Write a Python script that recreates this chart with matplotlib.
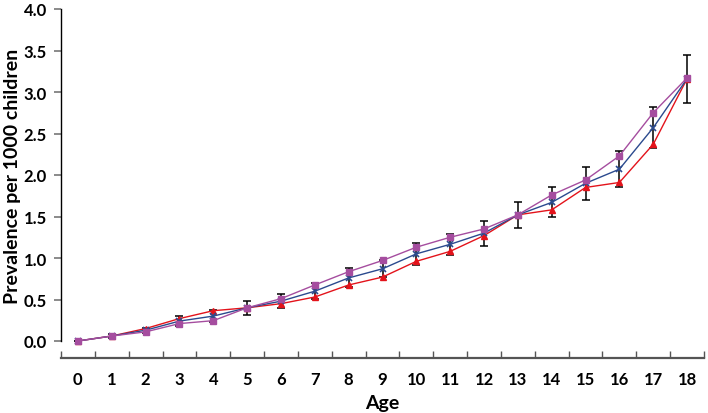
import matplotlib
matplotlib.use('Agg')
import matplotlib.pyplot as plt
import numpy as np
from matplotlib.ticker import MultipleLocator

plt.rcParams['font.family'] = ['Lato', 'DejaVu Sans']
plt.rcParams['font.weight'] = 'bold'

ages = list(range(19))
red = [0.00, 0.06, 0.15, 0.27, 0.365, 0.40, 0.45, 0.53, 0.675, 0.77, 0.96, 1.08, 1.27, 1.52, 1.58, 1.85, 1.91, 2.37, 3.16]
blue = [0.00, 0.06, 0.13, 0.24, 0.30, 0.40, 0.48, 0.60, 0.76, 0.87, 1.05, 1.165, 1.30, 1.52, 1.67, 1.90, 2.07, 2.57, 3.16]
purple = [0.00, 0.06, 0.11, 0.21, 0.245, 0.40, 0.51, 0.675, 0.835, 0.97, 1.13, 1.25, 1.35, 1.52, 1.76, 1.94, 2.23, 2.75, 3.17]
err = [0.0, 0.02, 0.03, 0.06, 0.07, 0.085, 0.085, 0.095, 0.115, 0.10, 0.13, 0.13, 0.15, 0.16, 0.18, 0.20, 0.215, 0.25, 0.29]

fig = plt.figure(figsize=(7.08, 4.14), dpi=100)
ax = fig.add_axes([61 / 708, 72 / 414, 643 / 708, 332 / 414])

x = np.array(ages)
ax.errorbar(x, blue, yerr=err, fmt='none', ecolor='black', elinewidth=1.1,
            capsize=3, capthick=1.1, zorder=2, clip_on=False)
ax.plot(x, red, color='#e3131b', lw=1.0, marker='^', ms=5, zorder=3, clip_on=False)
ax.plot(x, blue, color='#2b4a8e', lw=1.0, marker='x', ms=5, mew=1.2, zorder=4, clip_on=False)
ax.plot(x, purple, color='#a54d9f', lw=1.0, marker='s', ms=5, zorder=5, clip_on=False)

ax.set_xlim(-0.5, 18.5)
ax.set_ylim(0, 4)

for s in ['top', 'right']:
    ax.spines[s].set_visible(False)
ax.spines['left'].set_color('black')
ax.spines['left'].set_linewidth(1.0)
ax.spines['bottom'].set_position(('outward', 12.5))
ax.spines['bottom'].set_color('#555555')
ax.spines['bottom'].set_linewidth(1.6)

ax.set_xticks(ages)
ax.set_xticklabels([str(a) for a in ages])
ax.xaxis.set_minor_locator(MultipleLocator(1, offset=0.5))
ax.tick_params(axis='x', which='major', length=0, pad=9, labelsize=12)
ax.tick_params(axis='x', which='minor', direction='in', length=5, width=1.0, color='#555555')

ax.yaxis.set_major_locator(MultipleLocator(0.5))
ax.yaxis.set_major_formatter(matplotlib.ticker.FormatStrFormatter('%.1f'))
ax.tick_params(axis='y', direction='out', length=5, width=1.2, color='#777777', labelsize=12, pad=5)

for lab in ax.get_xticklabels() + ax.get_yticklabels():
    lab.set_fontweight('bold')

ax.set_xlabel('Age', fontsize=14, fontweight='bold', labelpad=5)
ax.set_ylabel('Prevalence per 1000 children', fontsize=14, fontweight='bold')
ax.yaxis.set_label_coords(-40 / 643, 0.5)

fig.savefig('out.png', dpi=100)
